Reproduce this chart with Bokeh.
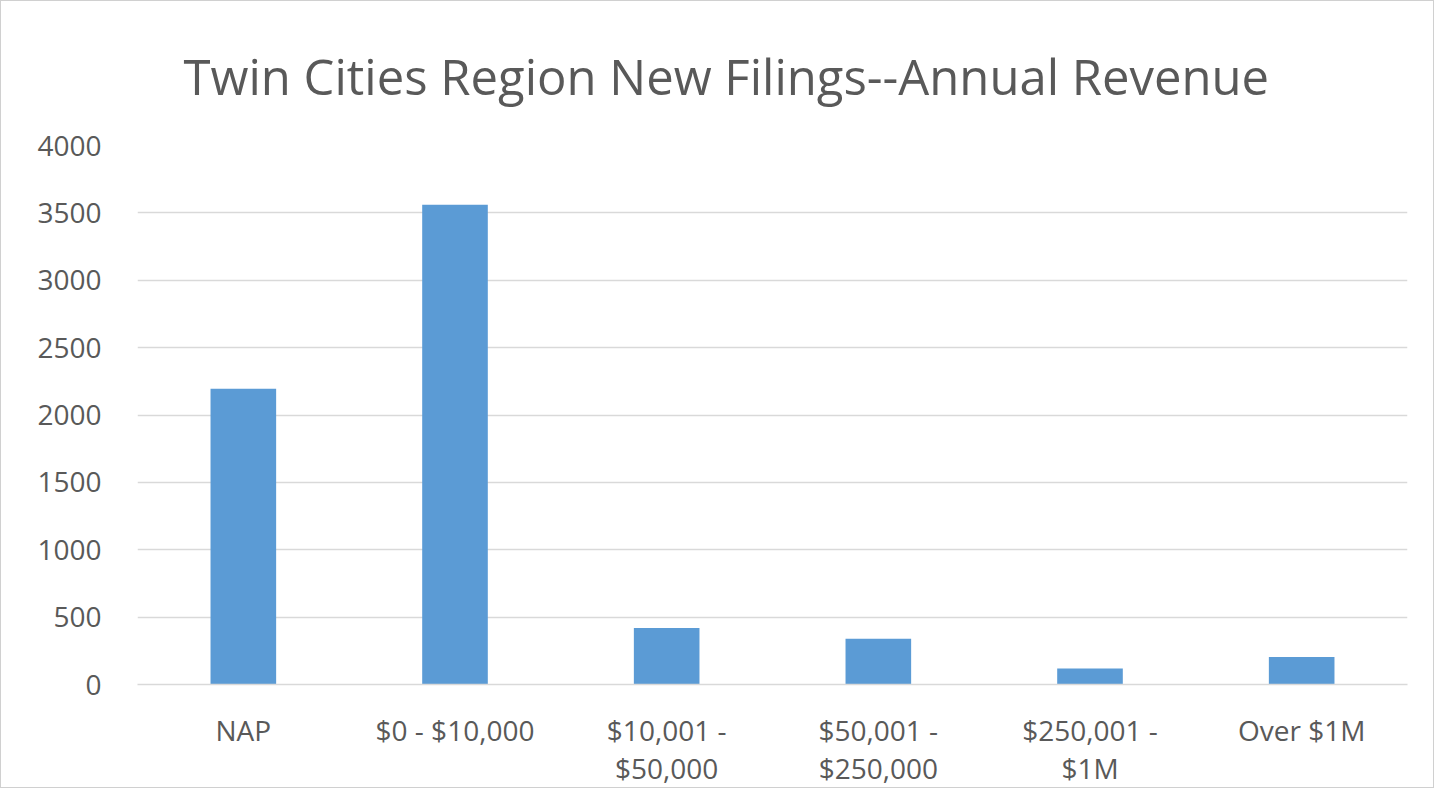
from bokeh.plotting import figure
from bokeh.models import ColumnDataSource, Range1d, FixedTicker, Title
from bokeh.embed import file_html
from bokeh.resources import INLINE

categories = ["NAP", "$0 - $10,000", "$10,001 -\n$50,000", "$50,001 -\n$250,000", "$250,001 -\n$1M", "Over $1M"]
values = [2195, 3560, 420, 340, 118, 205]
y_ticks = [0, 500, 1000, 1500, 2000, 2500, 3000, 3500, 4000]

FONT = "Open Sans"
TXT = "#595959"

src = ColumnDataSource(dict(cat=categories, val=values))

p = figure(x_range=categories, y_range=Range1d(0, 4000), width=1434, height=788,
           output_backend="svg", toolbar_location=None,
           min_border_left=136, min_border_right=28, min_border_top=144, min_border_bottom=100)
p.title = Title(text="Twin Cities Region New Filings--Annual Revenue", align="left", offset=46,
                text_font=FONT, text_font_size="49px", text_color=TXT, text_font_style="normal",
                standoff=74)

p.vbar(x="cat", top="val", width=0.31, source=src, color="#5b9bd5", line_color=None)

p.outline_line_color = None
p.xgrid.grid_line_color = None
p.ygrid.grid_line_color = "#d9d9d9"
p.ygrid.grid_line_width = 1.5

p.yaxis.ticker = FixedTicker(ticks=y_ticks)
p.yaxis.axis_line_color = None
p.yaxis.major_tick_line_color = None
p.yaxis.minor_tick_line_color = None
p.yaxis.major_tick_out = 0
p.yaxis.major_label_standoff = 36
p.yaxis.major_label_text_font = FONT
p.yaxis.major_label_text_font_size = "28px"
p.yaxis.major_label_text_color = TXT

p.xaxis.axis_line_color = "#d9d9d9"
p.xaxis.axis_line_width = 1.5
p.xaxis.major_tick_line_color = None
p.xaxis.major_tick_out = 0
p.xaxis.major_label_standoff = 26
p.xaxis.major_label_text_font = FONT
p.xaxis.major_label_text_font_size = "28px"
p.xaxis.major_label_text_color = TXT
p.xaxis.major_label_text_line_height = 1.0

p.styles = {"border": "1px solid #d0d0d0"}

open("out.html", "w").write(file_html(p, INLINE))
